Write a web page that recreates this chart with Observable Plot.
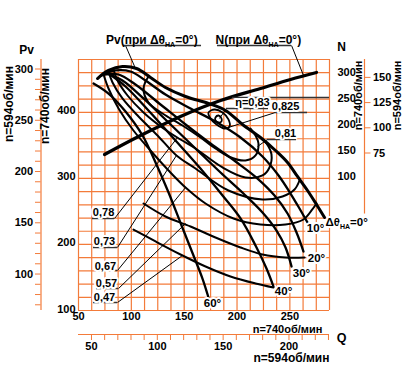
<!DOCTYPE html>
<html><head><meta charset="utf-8">
<script src="https://cdn.jsdelivr.net/npm/d3@7"></script>
<script src="https://cdn.jsdelivr.net/npm/@observablehq/plot@0.6"></script>
<style>
html,body{margin:0;padding:0;background:#fff;}
#chart{width:407px;height:365px;}
</style></head><body><div id="chart"></div>
<script>
// ---- Pressure curves Pv at n=740 rpm, [Q, Pv] for each guide-vane angle ----
const pv0  = [[68.0,451.2],[78.4,463.4],[91.6,469.4],[104.9,466.4],[118.1,452.8],[132.3,437.6],[151.3,424.0],[173.0,413.4],[189.1,402.8],[205.2,381.6],[222.2,361.9],[236.4,342.2],[247.8,324.1],[257.2,302.9],[266.7,281.7],[275.2,260.5],[282.8,240.8]];
const pv10 = [[71.8,455.8],[85.0,463.4],[99.2,461.8],[113.4,448.2],[132.3,427.0],[156.0,405.8],[179.6,386.1],[203.3,361.9],[224.1,333.2],[239.3,304.4],[250.6,277.1],[259.1,254.4],[266.7,233.2]];
const pv20 = [[74.6,457.3],[87.9,457.3],[103.9,442.2],[127.6,411.9],[151.3,381.6],[174.9,352.8],[198.6,325.6],[219.4,299.8],[235.5,274.1],[247.8,246.9],[256.3,218.1],[262.9,189.3]];
const pv30 = [[76.5,458.8],[91.6,448.2],[111.5,421.0],[135.2,384.6],[160.7,345.3],[184.4,308.9],[206.1,277.1],[224.1,248.4],[237.4,221.1],[245.9,195.4],[251.6,166.6]];
const pv40 = [[78.4,458.8],[94.5,439.1],[116.2,402.8],[141.8,357.4],[165.4,315.0],[186.3,274.1],[203.3,239.3],[217.5,198.4],[227.9,163.6],[234.5,136.3]];
const pv60 = [[64.2,443.7],[78.4,428.5],[94.5,401.3],[110.6,365.0],[122.9,324.1],[135.2,278.7],[147.5,228.7],[158.8,183.3],[167.3,148.4],[173.0,119.7]];

// ---- Efficiency contours, [Q, Pv] ----
const eta083  = [[179.6,392.2],[182.5,395.2],[185.3,390.7],[185.3,386.1],[182.5,384.6],[179.6,387.6]];
const eta0825 = [[173.0,399.8],[178.7,404.3],[186.3,399.8],[191.9,389.2],[192.9,378.6],[188.2,375.5],[180.6,381.6],[174.9,390.7]];
const eta081  = [[116.2,454.3],[111.5,436.1],[116.2,414.9],[129.5,398.3],[148.4,380.1],[165.4,361.9],[179.6,345.3],[191.9,333.2],[208.0,327.1],[217.5,334.7],[220.3,352.8],[217.5,365.0],[212.8,375.5]];
const eta078  = [[83.1,464.9],[86.9,448.2],[96.4,425.5],[111.5,399.8],[130.4,375.5],[146.5,358.9],[160.7,345.3],[186.3,316.5],[208.0,301.4],[224.1,304.4],[230.7,316.5],[232.6,336.2],[227.9,352.8],[224.1,358.9]];
const eta073  = [[78.4,461.8],[82.2,445.2],[91.6,421.0],[106.8,393.7],[124.8,365.0],[142.7,334.7],[160.7,315.0],[191.9,281.7],[224.1,268.1],[243.0,272.6],[254.4,283.2],[259.1,296.8]];
const eta067  = [[73.7,457.3],[78.4,436.1],[87.9,405.8],[102.0,372.5],[118.1,342.2],[135.2,312.0],[151.3,286.2],[170.2,262.0],[196.7,239.3],[222.2,230.2],[245.9,230.2],[262.9,237.8],[270.5,251.4],[275.2,262.0]];
const eta057  = [[111.5,262.0],[132.3,242.3],[156.0,227.2],[179.6,210.5],[203.3,195.4],[224.1,184.8],[245.9,180.2],[263.9,180.2]];
const eta047  = [[102.0,222.6],[122.9,204.5],[146.5,184.8],[170.2,166.6],[193.8,151.5],[217.5,140.9],[234.5,134.8]];

// ---- Power N at n=740 rpm (Δθ=0°), [Q, N] ----
const nLine = [[74.6,142.2],[108.7,178.6],[146.5,215.1],[184.4,245.7],[222.2,268.7],[250.6,286.0],[275.2,299.4]];

// ---- Tick labels ----
const qLabels740 = [50,100,150,200,250];
const pLabels740 = [100,200,300,400];
const qTicks594  = [50,60,70,80,90,100,110,120,130,140,150,160,170,180,190,200,210,220,230];
const pTicks594  = [70,80,90,100,110,120,130,140,150,160,170,180,190,200,210,220,230,240,250,260,270,280,290,300];
const nLabels740 = [100,150,200,250,300];
const nLabels594 = [75,100,125,150];

// ---- Annotation texts ----
const etaLabels = [
  {q:214.6, p:414.9, t:"η=0,83"},
  {q:245.9, p:408.9, t:"0,825"},
  {q:245.9, p:368.0, t:"0,81"},
  {q:73.7,  p:248.4, t:"0,78"},
  {q:74.6,  p:204.5, t:"0,73"},
  {q:75.5,  p:166.6, t:"0,67"},
  {q:76.5,  p:140.9, t:"0,57"},
  {q:74.6,  p:119.7, t:"0,47"}
];
const angleLabels = [
  {q:274.3, p:224.1, t:"10°"},
  {q:275.2, p:178.7, t:"20°"},
  {q:261.0, p:156.0, t:"30°"},
  {q:244.0, p:128.8, t:"40°"},
  {q:176.8, p:110.6, t:"60°"}
];
const zeroLabel = [{q:283.7, p:233.2, t:"Δθ_НА=0°"}];
const titles = [
  {q:76.0,  p:508.8, t:"Pv(при Δθ_НА=0°)"},
  {q:179.6, p:508.8, t:"N(при Δθ_НА=0°)"}
];
const leaders = [
  {x1:94.5, y1:501.2, x2:103.9, y2:466.4},
  {x1:251.6,y1:501.2, x2:262.9, y2:455.8},
  {x1:190.0,y1:405.8, x2:183.4, y2:390.7},
  {x1:236.4,y1:399.8, x2:191.9, y2:377.1},
  {x1:228.8,y1:358.9, x2:219.4, y2:348.3},
  {x1:84.1, y1:239.3, x2:143.7, y2:361.9},
  {x1:86.9, y1:195.4, x2:142.7, y2:334.7},
  {x1:86.9, y1:160.6, x2:151.3, y2:286.2},
  {x1:87.9, y1:133.3, x2:151.3, y2:231.7},
  {x1:86.9, y1:112.1, x2:148.4, y2:183.3}
];
const underlines = [
  {x1:92.6, x2:166.4, y:501.2},
  {x1:181.5,x2:251.6, y:501.2},
  {x1:195.7,x2:287.5, y:422.5},
  {x1:190.0,x2:229.8, y:405.8},
  {x1:236.4,x2:266.7, y:399.8},
  {x1:228.8,x2:256.3, y:358.9},
  {x1:63.2, x2:84.1,  y:239.3},
  {x1:64.2, x2:86.9,  y:195.4},
  {x1:66.1, x2:86.9,  y:160.6},
  {x1:67.0, x2:87.9,  y:133.3},
  {x1:64.2, x2:86.9,  y:112.1}
];

// ---- scale relations ----
const K = 740/594;                         // speed ratio
const nToPv = d3.scaleLinear().domain([100,300]).range([302.9,460.8]); // N axis (right) onto Pv axis
const ORANGE = "#f37b3a";
const FONT = "'Liberation Sans', Arial, sans-serif";

const toRows = (list) => list.flatMap(([k, pts]) => pts.map(([q,p]) => ({k, q, p})));
const pvRows = toRows([["10",pv10],["20",pv20],["30",pv30],["40",pv40],["60",pv60]]);
const etaOpenRows = toRows([["81",eta081],["78",eta078],["73",eta073],["67",eta067],["57",eta057],["47",eta047]]);
const etaClosedRows = toRows([["83",eta083],["825",eta0825]]);

const pTickPos = pTicks594.map(v => v*K*K);
const pTickMap = new Map(pTicks594.map(v => [v*K*K, v % 50 === 0 ? String(v) : ""]));
const qTickPos = qTicks594.map(v => v*K);
const qTickMap = new Map(qTicks594.map(v => [v*K, v % 50 === 0 ? String(v) : ""]));
const nTickPos = nLabels594.map(v => nToPv(v*K*K*K));
const nTickMap = new Map(nLabels594.map(v => [nToPv(v*K*K*K), String(v)]));

const halo = {stroke:"white", strokeWidth:4, fill:"black"};
const mid = {textAnchor:"middle", lineAnchor:"middle"};

const chart = Plot.plot({
  width: 407, height: 365,
  marginLeft: 78, marginRight: 78, marginTop: 59, marginBottom: 55,
  x: {domain:[50,287.5], label:null},
  y: {domain:[100,480], label:null},
  style: {fontFamily: FONT, fontSize:"11px", fontWeight:"bold", background:"white", color:"black"},
  marks: [
    // grid
    Plot.ruleX(d3.range(50, 287.6, 12.5), {stroke: ORANGE, strokeWidth: 1.2}),
    Plot.ruleY(d3.range(100, 480.1, 20), {stroke: ORANGE, strokeWidth: 1.2}),
    // secondary axes lines
    Plot.ruleX([50], {dx: -37.5, stroke: ORANGE, strokeWidth: 1.2}),
    Plot.ruleY([100], {dy: 24, stroke: ORANGE, strokeWidth: 1.2}),
    Plot.ruleX([287.5], {dx: 35, y1: nToPv(28), y2: 480, stroke: ORANGE, strokeWidth: 1.2}),
    Plot.axisY(pTickPos, {anchor:"left", dx:-37.5, tickSize:5.5, tickPadding:2.5, stroke: ORANGE, tickFormat: v => pTickMap.get(v), label:null}),
    Plot.axisX(qTickPos, {anchor:"bottom", dy:24, tickSize:6, tickPadding:2, stroke: ORANGE, tickFormat: v => qTickMap.get(v), label:null}),
    Plot.axisY(nTickPos, {anchor:"right", dx:35, tickSize:5.5, tickPadding:3, stroke: ORANGE, tickFormat: v => nTickMap.get(v), label:null}),
    // main axis labels
    Plot.text(qLabels740, {x: d=>d, frameAnchor:"bottom", dy:6, ...mid, text: d=>String(d)}),
    Plot.text(pLabels740, {y: d=>d, frameAnchor:"left", dx:-3, dy:-1.5, textAnchor:"end", lineAnchor:"middle", text: d=>String(d)}),
    Plot.text(nLabels740, {y: d=>nToPv(d), frameAnchor:"right", dx:8, textAnchor:"start", lineAnchor:"middle", text: d=>String(d)}),
    // curves
    Plot.line(etaClosedRows, {x:"q", y:"p", z:"k", curve:"catmull-rom-closed", stroke:"black", strokeWidth:1.8}),
    Plot.line(etaOpenRows, {x:"q", y:"p", z:"k", curve:"catmull-rom", stroke:"black", strokeWidth:2}),
    Plot.line(pvRows, {x:"q", y:"p", z:"k", curve:"catmull-rom", stroke:"black", strokeWidth:2.3}),
    Plot.line(pv0, {x: d=>d[0], y: d=>d[1], curve:"catmull-rom", stroke:"black", strokeWidth:3}),
    Plot.line(nLine, {x: d=>d[0], y: d=>nToPv(d[1]), curve:"catmull-rom", stroke:"black", strokeWidth:3.2}),
    // leaders
    Plot.link(leaders, {x1:"x1", y1:"y1", x2:"x2", y2:"y2", stroke:"black", strokeWidth:1}),
    Plot.ruleY(underlines, {x1:"x1", x2:"x2", y:"y", stroke:"#333", strokeWidth:1.5}),
    // labels
    Plot.text(etaLabels, {x:"q", y:"p", text:"t", fontSize:11, ...halo}),
    Plot.text(angleLabels, {x:"q", y:"p", text:"t", fontSize:11.5, ...halo}),
    Plot.text(zeroLabel, {x:"q", y:"p", text:"t", fontSize:11.5, textAnchor:"start", ...halo}),
    Plot.text(titles, {x:"q", y:"p", text:"t", fontSize:12, textAnchor:"start"}),
    // axis titles
    Plot.text(["Pv"], {frameAnchor:"top-left", dx:-52, dy:-9, ...mid, text:d=>d, fontSize:12}),
    Plot.text(["N"], {frameAnchor:"top-right", dx:12, dy:-12, ...mid, text:d=>d, fontSize:12}),
    Plot.text(["n=594об/мин"], {frameAnchor:"left", dx:-69, dy:-81, ...mid, rotate:-90, text:d=>d, fontSize:12}),
    Plot.text(["n=740об/мин"], {frameAnchor:"left", dx:-33, dy:-79, ...mid, rotate:-90, text:d=>d, fontSize:12}),
    Plot.text(["n=740об/мин"], {frameAnchor:"top-right", dx:28.5, dy:36, ...mid, rotate:-90, text:d=>d, fontSize:11}),
    Plot.text(["n=594об/мин"], {frameAnchor:"top-right", dx:68, dy:36, ...mid, rotate:-90, text:d=>d, fontSize:11}),
    Plot.text(["n=740об/мин"], {frameAnchor:"bottom-right", dx:-42, dy:19, ...mid, text:d=>d, fontSize:11}),
    Plot.text(["Q"], {frameAnchor:"bottom-right", dx:12, dy:27, ...mid, text:d=>d, fontSize:12.5}),
    Plot.text(["n=594об/мин"], {frameAnchor:"bottom-right", dx:-38, dy:48, ...mid, text:d=>d, fontSize:12})
  ]
});

// subscripts "НА"
d3.select(chart).selectAll("text").each(function() {
  const s = this.textContent;
  if (!s.includes("_НА")) return;
  const [a, b] = s.split("_НА");
  const t = d3.select(this);
  t.text(null);
  t.append("tspan").text(a);
  t.append("tspan").attr("font-size", "7px").attr("dy", 3).text("НА");
  t.append("tspan").attr("dy", -3).text(b);
});

document.getElementById("chart").appendChild(chart);
</script></body></html>
